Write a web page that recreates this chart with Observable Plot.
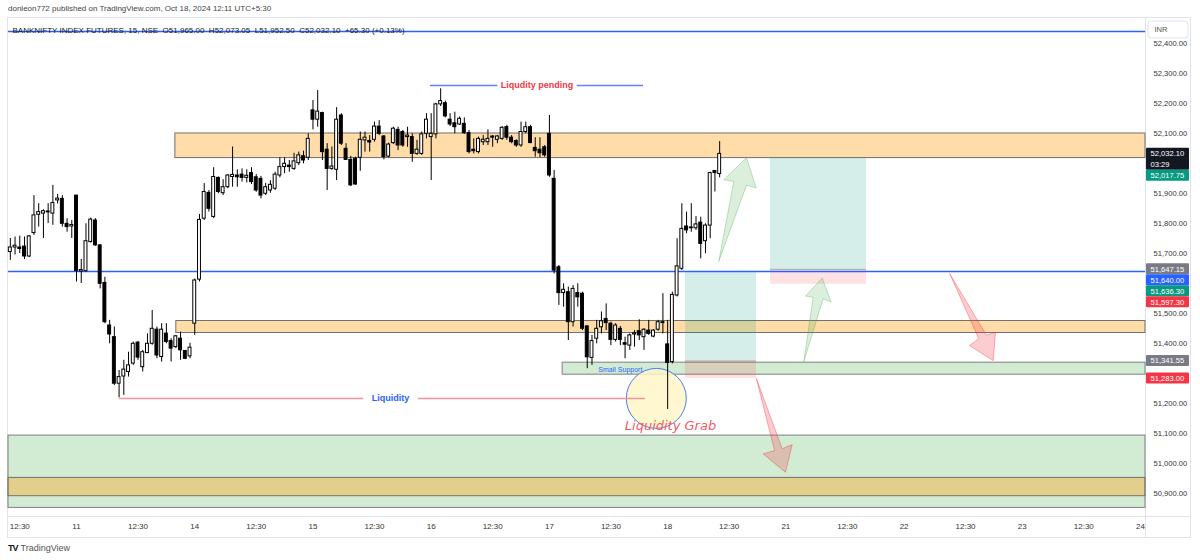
<!DOCTYPE html>
<html><head><meta charset="utf-8">
<script src="https://cdn.jsdelivr.net/npm/d3@7"></script>
<script src="https://cdn.jsdelivr.net/npm/@observablehq/plot@0.6"></script>
<style>
body{margin:0;background:#fff;font-family:"Liberation Sans",Arial,sans-serif;}
#wrap{position:relative;width:1200px;height:560px;overflow:hidden;}
#hdr{position:absolute;left:8px;top:4px;font-size:8px;color:#444;white-space:nowrap;}
#chart{position:absolute;left:0;top:18px;}
#foot{position:absolute;left:8px;top:543px;font-size:9px;color:#555;white-space:nowrap;}
#foot b{color:#131722;letter-spacing:-1px;font-size:9px;margin-right:3px;}
.ln{position:absolute;background:#e0e3eb;}
</style></head>
<body><div id="wrap">
<div id="hdr">donleon772 published on TradingView.com, Oct 18, 2024 12:11 UTC+5:30</div>
<div class="ln" style="left:7px;top:17px;width:1184px;height:1px"></div>
<div class="ln" style="left:7px;top:537px;width:1184px;height:1px"></div>
<div class="ln" style="left:7px;top:17px;width:1px;height:521px"></div>
<div class="ln" style="left:1190px;top:17px;width:1px;height:521px"></div>
<div class="ln" style="left:7px;top:516px;width:1184px;height:1px"></div>
<div class="ln" style="left:1145px;top:17px;width:1px;height:521px"></div>
<div id="chart"></div>
<div id="foot"><b>TV</b>TradingView</div>
</div>
<script>
// ---------- data (15-minute bars, bar 0 = Oct 10 09:15, 25 bars per session) ----------
const firstBar = 11;
const opens = [51705,51720,51720,51723,51690,51768,51829,51833,51840,51833,51877,51882,51799,51790,
 51893,51640,51641,51738,51810,51727,51602,51460,51421,51266,51290,51305,51333,51403,51321,51368,51399,51446,51355,51433,51408,51388,51416,51375,51357,
 51466,51613,51816,51902,51822,51952,51901,51921,51955,51960,51963,51952,51968,51954,51949,51899,51910,51916,51960,51988,51993,51982,52001,52024,52019,
 52177,52146,52168,52046,51982,51979,52160,52049,52012,52016,52019,52077,52075,52079,52123,52090,52023,52068,52112,52105,52088,52088,52032,52032,52099,
 52088,52097,52197,52201,52146,52134,52130,52132,52101,52046,52038,52071,52071,52090,52079,52082,52121,52086,52075,52060,52105,52121,52052,52046,52054,
 52099,51949,51654,51568,51571,51471,51568,51566,51457,51352,51416,51454,51482,51466,51412,51449,51401,51393,51430,51441,51421,51443,51423,51446,51468,
 51397,51338,51560,51649,51790,51784,51784,51803,51741,51793,51975,51965];
const highs = [51750,51755,51758,51755,51760,51893,51866,51846,51866,51927,51897,51893,51816,51810,
 51893,51680,51799,51818,51816,51730,51621,51477,51455,51310,51344,51371,51405,51407,51377,51432,51510,51455,51466,51466,51416,51427,51438,51377,51401,
 51615,51830,51933,51910,51986,51955,51946,51963,52055,51979,51982,51979,51986,51963,51957,51934,51943,51971,52019,52019,52010,52034,52038,52041,52099,
 52210,52243,52171,52066,52055,52186,52166,52066,52024,52021,52105,52105,52093,52138,52143,52093,52068,52121,52121,52110,52121,52099,52077,52105,52166,
 52166,52201,52249,52208,52166,52171,52155,52152,52110,52082,52088,52093,52112,52093,52093,52123,52127,52093,52079,52138,52138,52127,52086,52086,52060,
 52160,51977,51660,51599,51588,51593,51599,51571,51460,51427,51477,51505,51532,51471,51466,51457,51421,51432,51443,51479,51449,51477,51446,51477,51566,
 51477,51571,51749,51866,51838,51866,51823,51821,51799,51971,51977,52073];
const lows = [51677,51695,51700,51680,51686,51760,51788,51750,51800,51794,51865,51788,51771,51750,
 51605,51600,51638,51735,51724,51582,51466,51399,51260,51219,51227,51288,51327,51344,51305,51366,51394,51349,51338,51399,51338,51383,51344,51346,51349,
 51427,51605,51810,51838,51816,51899,51893,51916,51921,51921,51938,51935,51930,51904,51882,51893,51901,51910,51952,51966,51971,51977,51993,51999,52010,
 52112,52121,52010,51910,51977,51943,52060,52010,51923,51927,51974,52038,52038,52071,52093,52012,52019,52063,52043,52054,52054,52004,52027,52027,52082,
 51943,52082,52190,52152,52123,52099,52127,52097,52032,52032,52032,52060,52060,52054,52066,52077,52077,52066,52054,52054,52099,52066,52021,52019,52021,
 51954,51632,51527,51521,51410,51455,51521,51443,51316,51327,51399,51432,51443,51393,51405,51393,51349,51377,51388,51410,51377,51427,51419,51441,51432,
 51180,51332,51555,51643,51766,51771,51777,51682,51699,51749,51905,51952];
const closes = [51720,51726,51715,51690,51757,51827,51838,51841,51837,51868,51883,51799,51788,51795,
 51641,51645,51741,51813,51727,51599,51471,51430,51266,51288,51313,51327,51399,51353,51371,51399,51449,51360,51446,51405,51383,51424,51377,51349,51386,
 51610,51812,51905,51849,51955,51905,51921,51960,51962,51954,51952,51959,51938,51910,51893,51921,51929,51963,51988,51999,51988,52007,52027,52010,52082,
 52146,52173,52038,51982,51990,52146,52066,52012,51927,51930,52079,52086,52070,52123,52099,52021,52063,52116,52060,52060,52093,52032,52046,52097,52146,
 52099,52197,52208,52157,52130,52121,52149,52101,52038,52041,52082,52079,52082,52086,52090,52119,52086,52071,52060,52105,52121,52068,52041,52034,52027,
 51960,51643,51568,51579,51471,51582,51554,51449,51354,51408,51449,51474,51468,51412,51460,51412,51396,51427,51434,51427,51446,51432,51443,51471,51471,
 51335,51562,51657,51782,51777,51787,51797,51732,51793,51968,51968,52032];

const xTickBars = [13,25,38,50,63,75,88,100,113,125,138,150,163,175,188,200,213,225,238,250];
const xTickLabels = ["12:30","11","12:30","14","12:30","15","12:30","16","12:30","17","12:30","18","12:30","21","12:30","22","12:30","23","12:30","24"];
const yTickValues = d3.range(50900, 52401, 100);

// zones: start bar (null = off-chart left), price range
const zoneStart = [45.9, 46.1, 127.8, null, null];
const zoneLow   = [52018, 51435, 51296, 50852, 50891];
const zoneHigh  = [52100, 51475, 51336, 51093, 50952];
const zoneKind  = ["orange","orange","green","green","orange"];

// long-position tools: bar range, entry, target, stop
const posStart  = [153.77, 171.75];
const posEnd    = [168.79, 192.05];
const posEntry  = [51341.55, 51647.15];
const posTarget = [51636.30, 52017.75];
const posStop   = [51283.00, 51597.30];

// horizontal lines
const hLines = [52440, 51640];
const liqPending = {from: 99.85, to: 144.9, price: 52260, mid: 122.4};
const liqLine = {from: 34.1, to: 145.3, price: 51217, mid: 91.4};
const grab = {bar: 147.6, price: 51217};
const grabText = {bar: 150.6, price: 51127};
const supportText = {bar: 140, price: 51314};

// arrows (bar, price) polygons
const arrowUp1 = [[160.82,51674],[163.99,51940],[161.87,51946],[166.67,52019],[168.72,51919],[166.67,51927]];
const arrowUp2 = [[178.79,51340],[180.78,51554],[179.15,51558],[182.68,51618],[184.58,51538],[182.89,51549]];
const arrowDn1 = [[209.67,51632],[217.43,51427],[219.33,51438],[218.84,51343],[213.83,51393],[215.80,51416]];
const arrowDn2 = [[168.79,51282],[174.22,51049],[176.34,51063],[174.92,50971],[170.20,51032],[172.60,51043]];

// right price tags
const tagPrices = [52032.10, 52017.75, 51647.15, 51640.00, 51636.30, 51597.30, 51341.55, 51283.00];
const tagColors = ["#131722","#089981","#787B86","#2962FF","#089981","#F23645","#787B86","#F23645"];
const tagSub    = ["03:29","","","","","","",""];

// ---------- layout ----------
const W = 1200, H = 520, ML = 8, MR = 55, MT = 0, MB = 22;
const X0 = 10.615, X1 = 251.05, Y0 = 50823.3, Y1 = 52483.3;
const plotW = W - ML - MR, plotH = H - MT - MB;
const pxToBar = px => X0 + (px - ML) / plotW * (X1 - X0);
const yPx = p => MT + (Y1 - p) / (Y1 - Y0) * plotH;
const pOf = px => Y1 - (px - MT) / plotH * (Y1 - Y0);

const candles = opens.map((o, k) => ({i: firstBar + k, o, h: highs[k], l: lows[k], c: closes[k]}));
const up = candles.filter(d => d.c >= d.o), dn = candles.filter(d => d.c < d.o);
const BW = 0.31;

const zones = zoneLow.map((lo, k) => ({x1: zoneStart[k] ?? X0, x2: X1, lo, hi: zoneHigh[k], kind: zoneKind[k]}));
const pos = posStart.map((s, k) => ({s, e: posEnd[k], entry: posEntry[k], target: posTarget[k], stop: posStop[k]}));

const TAG_H = 11;
let prevBottom = -Infinity;
const tags = tagPrices.map((p, k) => {
  const h = tagSub[k] ? 2 * TAG_H : TAG_H;
  const top = Math.max(yPx(p) - TAG_H / 2, prevBottom);
  prevBottom = top + h;
  return {p, text: d3.format(",.2f")(p), sub: tagSub[k], color: tagColors[k], top, bottom: top + h};
});
// hide axis labels that sit under a price tag (as the terminal does)
const yTicks = yTickValues.filter(v => !tags.some(t => yPx(v) > t.top - 4 && yPx(v) < t.bottom + 4));
const tagX1 = pxToBar(1146), tagX2 = pxToBar(1189), tagTX = pxToBar(1150);

const poly = a => a.concat([a[0]]).map(([x, y]) => ({x, y}));
const arrowMark = (a, col, op) => Plot.line(poly(a), {x: "x", y: "y", fill: col, fillOpacity: op, stroke: col, strokeOpacity: op + 0.15, strokeWidth: 1, curve: "linear"});

const fnt = "Liberation Sans, Arial, sans-serif";
const chart = Plot.plot({
  width: W, height: H, marginLeft: ML, marginRight: MR, marginTop: MT, marginBottom: MB,
  style: {background: "transparent", fontFamily: fnt, color: "#333"},
  x: {type: "linear", domain: [X0, X1]},
  y: {type: "linear", domain: [Y0, Y1]},
  marks: [
    Plot.axisY({anchor: "right", ticks: yTicks, tickFormat: d3.format(",.2f"), tickSize: 0, tickPadding: 8, fontSize: 7.6, label: null}),
    Plot.axisX({ticks: xTickBars, tickFormat: d => xTickLabels[xTickBars.indexOf(d)], tickSize: 0, tickPadding: 7, fontSize: 8, label: null}),
    // zones
    Plot.rect(zones.filter(d => d.kind === "green"), {x1: "x1", x2: "x2", y1: "lo", y2: "hi", fill: "#4CAF50", fillOpacity: 0.25, stroke: "#808080", strokeWidth: 1}),
    Plot.rect(zones.filter(d => d.kind === "orange"), {x1: "x1", x2: "x2", y1: "lo", y2: "hi", fill: "#FF9800", fillOpacity: 0.34, stroke: "#707070", strokeWidth: 1}),
    // position tools
    Plot.rect(pos, {x1: "s", x2: "e", y1: "entry", y2: "target", fill: "#089981", fillOpacity: 0.17}),
    Plot.rect(pos, {x1: "s", x2: "e", y1: "stop", y2: "entry", fill: "#F23645", fillOpacity: 0.15}),
    Plot.ruleY(pos, {x1: "s", x2: "e", y: "entry", stroke: "#787B86", strokeOpacity: 0.6}),
    // horizontal lines
    Plot.ruleY(hLines, {y: d => d, x1: X0, x2: X1, stroke: "rgb(41,98,255)", strokeWidth: 1.4}),
    Plot.ruleY([liqPending], {x1: "from", x2: "to", y: "price", stroke: "rgb(100,130,245)", strokeWidth: 1.3}),
    Plot.dot([grab], {x: "bar", y: "price", r: 30, fill: "#FFF6C8", fillOpacity: 0.85, stroke: "#4C7CF0", strokeWidth: 1}),
    Plot.ruleY([liqLine], {x1: "from", x2: "to", y: "price", stroke: "#F4939C", strokeWidth: 1.5}),
    // candles
    Plot.ruleX(candles, {x: "i", y1: "l", y2: "h", stroke: "#000", strokeWidth: 1}),
    Plot.rect(up, {x1: d => d.i - BW, x2: d => d.i + BW, y1: "o", y2: "c", fill: "#fff", stroke: "#000", strokeWidth: 1}),
    Plot.rect(dn, {x1: d => d.i - BW, x2: d => d.i + BW, y1: "c", y2: "o", fill: "#000", stroke: "#000", strokeWidth: 1}),
    // arrows
    arrowMark(arrowUp1, "#4CAF50", 0.2),
    arrowMark(arrowUp2, "#4CAF50", 0.2),
    arrowMark(arrowDn1, "#F23645", 0.25),
    arrowMark(arrowDn2, "#F23645", 0.25),
    // texts
    Plot.text([liqPending], {x: "mid", y: "price", text: () => "Liqudity pending", fill: "#F23645", fontWeight: "bold", fontSize: 9, stroke: "#fff", strokeWidth: 8}),
    Plot.text([liqLine], {x: "mid", y: "price", text: () => "Liquidity", fill: "#2962FF", fontWeight: "bold", fontSize: 9, stroke: "#fff", strokeWidth: 18}),
    Plot.text([grabText], {x: "bar", y: "price", text: () => "Liquidity Grab", fill: "#F45B69", fontStyle: "italic", fontSize: 13, fontFamily: "DejaVu Sans, sans-serif"}),
    Plot.text([supportText], {x: "bar", y: "price", text: () => "Small Support", fill: "#2962FF", fontSize: 7}),
    Plot.text(["BANKNIFTY INDEX FUTURES, 15, NSE  O51,965.00  H52,073.05  L51,952.50  C52,032.10  +65.30 (+0.13%)"], {frameAnchor: "top-left", dx: 4, dy: 9, textAnchor: "start", fill: "#131722", fontSize: 8}),
    // right price tags
    Plot.rect(tags, {x1: tagX1, x2: tagX2, y1: d => pOf(d.top), y2: d => pOf(d.bottom), fill: "color", rx: 1}),
    Plot.text(tags, {x: tagTX, y: d => pOf(d.top + TAG_H / 2), text: "text", fill: "#fff", textAnchor: "start", fontSize: 7.6}),
    Plot.text(tags.filter(d => d.sub), {x: tagTX, y: d => pOf(d.top + 1.5 * TAG_H), text: "sub", fill: "#fff", textAnchor: "start", fontSize: 7.6}),
    Plot.rect([0], {x1: pxToBar(1148), x2: pxToBar(1188), y1: pOf(3), y2: pOf(20), fill: "#fff", stroke: "#e0e3eb", rx: 3}),
    Plot.text(["INR"], {x: pxToBar(1154), y: pOf(11.5), text: d => d, textAnchor: "start", fill: "#555", fontSize: 7.6})
  ]
});
document.getElementById("chart").appendChild(chart);
</script>
</body></html>
